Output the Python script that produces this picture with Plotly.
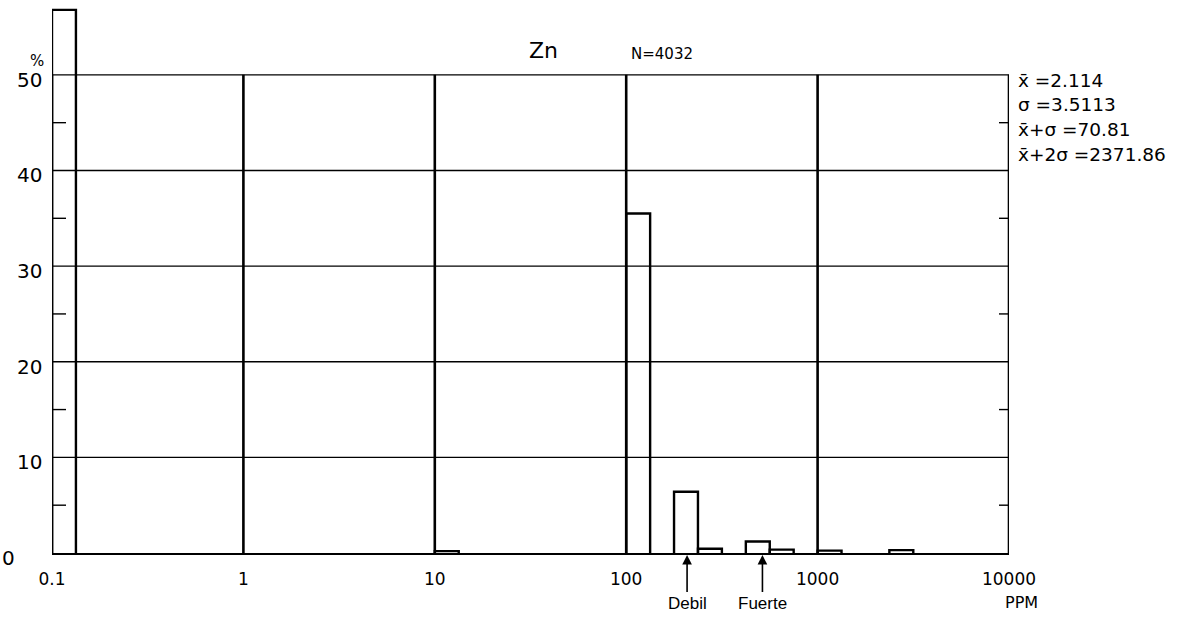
import numpy as np
import plotly.graph_objects as go

# ---------------- data ----------------
bin_left_ppm = [0.1, 10, 100, 177.8, 237.1, 421.7, 562.3, 1000, 2371]
percent = [56.8, 0.2, 35.5, 6.4, 0.45, 1.2, 0.35, 0.25, 0.3]
bin_step_decades = 0.125

x_tick_vals = [0.1, 1, 10, 100, 1000, 10000]
x_tick_text = ["0.1", "1", "10", "100", "1000", "10000"]
y_tick_vals = [0, 10, 20, 30, 40, 50]
y_tick_text = ["0", "10", "20", "30", "40", "50"]
y_minor_vals = [5, 15, 25, 35, 45]

element = "Zn"
n_label = "N=4032"
stats_lines = ["x̄ =2.114", "σ =3.5113", "x̄+σ =70.81", "x̄+2σ =2371.86"]
anomaly_labels = ["Debil", "Fuerte"]
anomaly_ppm = [208, 515]
unit_label = "PPM"
y_unit = "%"

# ---------------- layout geometry ----------------
W, H = 1185, 629
L, R, T, B = 52, 176, 6, 76
PW, PH = W - L - R, H - T - B
Y_TOP = 57.2
Y_GRID_TOP = max(y_tick_vals)


def px(x):
    return (x - L) / PW


def py(y):
    return (H - B - y) / PH


FONT = "DejaVu Sans"

fig = go.Figure()

# horizontal gridlines
gx, gy = [], []
for v in y_tick_vals[1:]:
    gx += [x_tick_vals[0], x_tick_vals[-1], None]
    gy += [v, v, None]
fig.add_trace(go.Scatter(x=gx, y=gy, mode="lines", line=dict(color="black", width=1.4),
                         hoverinfo="skip", showlegend=False))

# vertical gridlines and frame sides
vx, vy = [], []
for v in x_tick_vals:
    vx += [v, v, None]
    vy += [0, Y_GRID_TOP, None]
fig.add_trace(go.Scatter(x=vx, y=vy, mode="lines", line=dict(color="black", width=2.6),
                         hoverinfo="skip", showlegend=False))

# histogram bars (outline only)
bx, by = [], []
for left, val in zip(bin_left_ppm, percent):
    right = left * 10 ** bin_step_decades
    bx += [left, left, right, right, None]
    by += [0, val, val, 0, None]
fig.add_trace(go.Scatter(x=bx, y=by, mode="lines", line=dict(color="black", width=2.4),
                         hoverinfo="skip", showlegend=False))

shapes = []
# minor ticks on left (inside) and right (inside)
for v in y_minor_vals:
    shapes.append(dict(type="line", xref="paper", yref="y", x0=0, x1=14 / PW, y0=v, y1=v,
                       line=dict(color="black", width=1.4)))
    shapes.append(dict(type="line", xref="paper", yref="y", x0=1 - 10 / PW, x1=1, y0=v, y1=v,
                       line=dict(color="black", width=1.4)))

annotations = []


def txt(text, x, y, size, xanchor="center", family=FONT):
    annotations.append(dict(text=text, xref="paper", yref="paper", x=px(x), y=py(y),
                            xanchor=xanchor, yanchor="middle", showarrow=False,
                            font=dict(family=family, size=size, color="black")))


# y tick labels (slightly below their gridlines, as in the scan)
for v, t in zip(y_tick_vals, y_tick_text):
    xr = 17 if v == 0 else 44
    annotations.append(dict(text=t, xref="paper", yref="y", x=px(xr), y=v, yshift=-5,
                            xanchor="right", yanchor="middle", showarrow=False,
                            font=dict(family=FONT, size=20, color="black")))

txt(y_unit, 37, 61, 15)
txt(element, 543, 51, 22)
txt(n_label, 662, 54, 15)
for i, s in enumerate(stats_lines):
    txt(s, 1016, 80 + 24.9 * i, 18.5, xanchor="left")
txt(unit_label, 1021, 602, 16)

for lab, ppm in zip(anomaly_labels, anomaly_ppm):
    annotations.append(dict(text=lab, x=np.log10(ppm), y=0, xref="x", yref="y",
                            ax=0, ay=50, showarrow=True, arrowhead=2, arrowsize=1.2,
                            arrowwidth=1.6, arrowcolor="black", standoff=2,
                            font=dict(family="Liberation Sans Narrow, Liberation Sans", size=17,
                                      color="black")))

fig.update_layout(
    width=W, height=H,
    margin=dict(l=L, r=R, t=T, b=B, pad=0),
    paper_bgcolor="white", plot_bgcolor="white",
    shapes=shapes, annotations=annotations,
    showlegend=False,
    xaxis=dict(type="log", range=[np.log10(x_tick_vals[0]), np.log10(x_tick_vals[-1])],
               tickvals=x_tick_vals, ticktext=x_tick_text, showgrid=False, zeroline=False,
               showline=True, linecolor="black", linewidth=2.4, ticks="",
               ticklabelstandoff=9,
               tickfont=dict(family=FONT, size=17, color="black")),
    yaxis=dict(range=[0, Y_TOP], showgrid=False, zeroline=False,
               showline=False, ticks="", showticklabels=False),
)

fig.write_html("out.html", config={"displayModeBar": False},
               post_script="document.body.style.margin='0';")
